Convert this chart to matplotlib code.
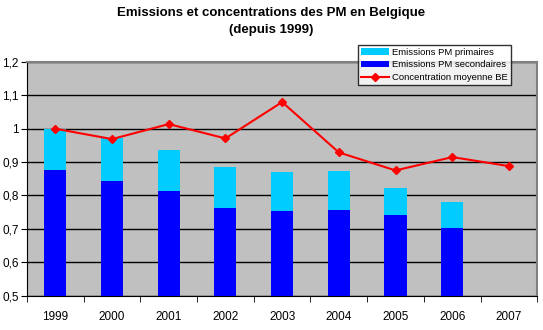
import matplotlib.pyplot as plt
import numpy as np

plt.rcParams['font.family'] = ['Liberation Sans', 'DejaVu Sans']

years = ["1999", "2000", "2001", "2002", "2003", "2004", "2005", "2006", "2007"]
secondaires = [0.877, 0.842, 0.814, 0.763, 0.754, 0.757, 0.740, 0.703]
totales = [1.000, 0.971, 0.937, 0.886, 0.871, 0.874, 0.823, 0.781]
concentration = [1.000, 0.969, 1.014, 0.971, 1.080, 0.929, 0.875, 0.915, 0.888]

primaires = [t - s for t, s in zip(totales, secondaires)]

fig = plt.figure(figsize=(5.43, 3.30), dpi=100)
ax = fig.add_axes([0.0497, 0.1045, 0.9398, 0.7075])
ax.set_facecolor("#c0c0c0")

x = np.arange(len(secondaires))
w = 0.39
b_sec = ax.bar(x, secondaires, w, bottom=0, color="#0000ff", zorder=3)
b_prim = ax.bar(x, primaires, w, bottom=secondaires, color="#00ccff", zorder=3)
ln, = ax.plot(np.arange(len(concentration)), concentration, color="#ff0000", lw=1.5,
              marker="D", ms=4, zorder=4)

ax.set_ylim(0.5, 1.2)
ax.set_xlim(-0.5, len(years) - 0.5)
ax.set_yticks(np.arange(0.5, 1.21, 0.1))
ax.set_yticklabels(["0,5", "0,6", "0,7", "0,8", "0,9", "1", "1,1", "1,2"])
ax.yaxis.grid(True, color="black", lw=1, zorder=1)
ax.set_xticks(np.arange(len(years)))
ax.set_xticklabels(years)
ax.set_xticks(np.arange(-0.5, len(years), 1), minor=True)
ax.tick_params(axis="x", which="major", length=0, pad=11, labelsize=8.5)
ax.tick_params(axis="x", which="minor", length=4, direction="out")
ax.tick_params(axis="y", length=4, direction="out", labelsize=8.5, pad=2)
for s in ["top", "right"]:
    ax.spines[s].set_color("#808080")
    ax.spines[s].set_linewidth(1.5)

leg = fig.legend([b_prim, b_sec, ln],
                 ["Emissions PM primaires", "Emissions PM secondaires", "Concentration moyenne BE"],
                 loc="upper left", bbox_to_anchor=(358 / 543, 1 - 45 / 330),
                 fontsize=6.8, frameon=True, fancybox=False, borderpad=0.3,
                 labelspacing=0.38, handlelength=3.0, handletextpad=0.3,
                 borderaxespad=0)
leg.get_frame().set_edgecolor("black")
leg.get_frame().set_linewidth(1)

fig.text(0.5, 1 - 13 / 330, "Emissions et concentrations des PM en Belgique",
         ha="center", va="center", fontsize=9.5, fontweight="bold")
fig.text(0.5, 1 - 30 / 330, "(depuis 1999)",
         ha="center", va="center", fontsize=9.5, fontweight="bold")

fig.savefig("out.png", dpi=100)
